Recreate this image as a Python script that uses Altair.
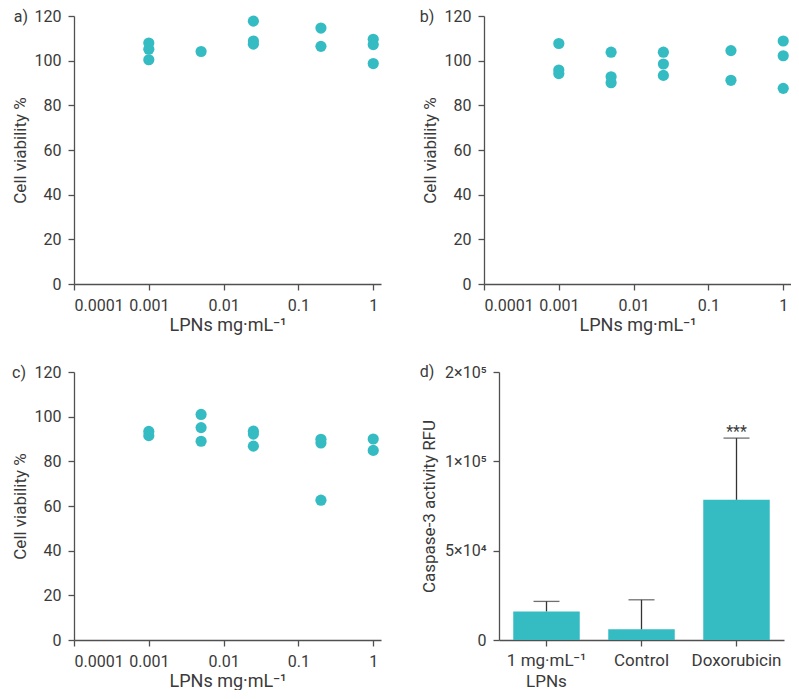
import altair as alt
import pandas as pd

# ---- data ----
conc_a = [0.001, 0.001, 0.001, 0.005, 0.025, 0.025, 0.025, 0.2, 0.2, 1, 1, 1]
via_a = [107.9, 105.1, 100.4, 104.1, 117.7, 108.8, 107.4, 114.6, 106.4, 109.6, 107.2, 98.7]

conc_b = [0.001, 0.001, 0.001, 0.005, 0.005, 0.005, 0.025, 0.025, 0.025, 0.2, 0.2, 1, 1, 1]
via_b = [107.7, 95.8, 94.2, 103.8, 92.8, 90.1, 103.8, 98.5, 93.4, 104.5, 91.2, 108.8, 102.2, 87.6]

conc_c = [0.001, 0.001, 0.005, 0.005, 0.005, 0.025, 0.025, 0.025, 0.2, 0.2, 0.2, 1, 1]
via_c = [93.4, 91.5, 101.0, 95.1, 89.0, 93.5, 92.2, 86.8, 89.9, 88.2, 62.6, 90.0, 84.9]

groups_d = ["1 mg·mL⁻¹|LPNs", "Control", "Doxorubicin"]
mean_d = [16000, 6000, 78500]
upper_d = [21600, 22500, 126000]
signif_d = ["", "", "***"]

x_ticks = [0.0001, 0.001, 0.01, 0.1, 1]
y_ticks = [0, 20, 40, 60, 80, 100, 120]
d_ticks = [0, 50000, 100000, 200000]

FONT = "Roboto"
TEAL = "#35bcc3"
AX = "#505050"
TXT = "#3a3a3a"
W, H = 307, 268


def scatter(conc, via, label, lx):
    df = pd.DataFrame({"conc": conc, "via": via})
    pts = alt.Chart(df).mark_circle(size=125, color=TEAL, opacity=1).encode(
        x=alt.X(
            "conc:Q",
            scale=alt.Scale(type="log", domain=[0.0001, 1.27], nice=False),
            axis=alt.Axis(values=x_ticks, format=".4~f", title="LPNs mg·mL⁻¹",
                          labelPadding=7, titlePadding=3, titleFontSize=18),
        ),
        y=alt.Y(
            "via:Q",
            scale=alt.Scale(domain=[0, 120], nice=False),
            axis=alt.Axis(values=y_ticks, title="Cell viability %", titlePadding=5),
        ),
    )
    lab = alt.Chart(pd.DataFrame({"t": [label]})).mark_text(
        font=FONT, fontSize=16, color=TXT, align="center", baseline="middle"
    ).encode(text="t:N", x=alt.value(lx), y=alt.value(1))
    return alt.layer(pts, lab).properties(width=W, height=H)


pa = scatter(conc_a, via_a, "a)", -53)
pb = scatter(conc_b, via_b, "b)", -57)
pc = scatter(conc_c, via_c, "c)", -55)

df_d = pd.DataFrame({"g": groups_d, "m": mean_d, "u": upper_d, "s": signif_d})
xd = alt.X(
    "g:N",
    sort=groups_d,
    scale=alt.Scale(paddingInner=0.3, paddingOuter=0.15),
    axis=alt.Axis(title=None, labelAngle=0, labelExpr="split(datum.label, '|')",
                  labelLineHeight=21, labelPadding=6, labelFontSize=17),
)
yscale = alt.Scale(domain=[0, 100000, 200000], range=[H, H / 3, 0], nice=False, zero=True)
bars = alt.Chart(df_d).mark_bar(color=TEAL).encode(
    x=xd,
    y=alt.Y(
        "m:Q",
        scale=yscale,
        axis=alt.Axis(
            values=d_ticks,
            title="Caspase-3 activity RFU",
            titlePadding=6,
            labelExpr="datum.value == 200000 ? '2×10⁵' : datum.value == 100000 ? '1×10⁵' : datum.value == 50000 ? '5×10⁴' : '0'",
        ),
    ),
)
err = alt.Chart(df_d).mark_rule(color="#333333", strokeWidth=1.3).encode(
    x=xd, y="m:Q", y2="u:Q"
)
cap = alt.Chart(df_d).mark_tick(color="#333333", thickness=1.3, size=26).encode(
    x=xd, y=alt.Y("u:Q")
)
star = alt.Chart(df_d).mark_text(
    font=FONT, fontSize=16, color=TXT, baseline="alphabetic", dy=-1
).encode(x=xd, y=alt.Y("u:Q"), text="s:N")
labd = alt.Chart(pd.DataFrame({"t": ["d)"]})).mark_text(
    font=FONT, fontSize=16, color=TXT, align="center", baseline="middle"
).encode(text="t:N", x=alt.value(-72), y=alt.value(0))
pd_ = alt.layer(bars, err, cap, star, labd).properties(width=285, height=H)

row1 = alt.hconcat(pa, pb, spacing=38)
row2 = alt.hconcat(pc, pd_, spacing=38)

chart = (
    alt.vconcat(row1, row2, spacing=30)
    .properties(padding={"left": 3, "top": 0, "right": 0, "bottom": 0})
    .configure_view(stroke=None)
    .configure_axis(
        domainColor=AX,
        tickColor=AX,
        domainWidth=1.3,
        tickWidth=1.3,
        tickSize=6,
        labelColor=TXT,
        titleColor=TXT,
        labelFont=FONT,
        titleFont=FONT,
        labelFontSize=16,
        titleFontSize=17,
        titleFontWeight="normal",
        labelPadding=7,
        grid=False,
    )
)

chart.save("out.html", embed_options={"renderer": "svg", "actions": False})
